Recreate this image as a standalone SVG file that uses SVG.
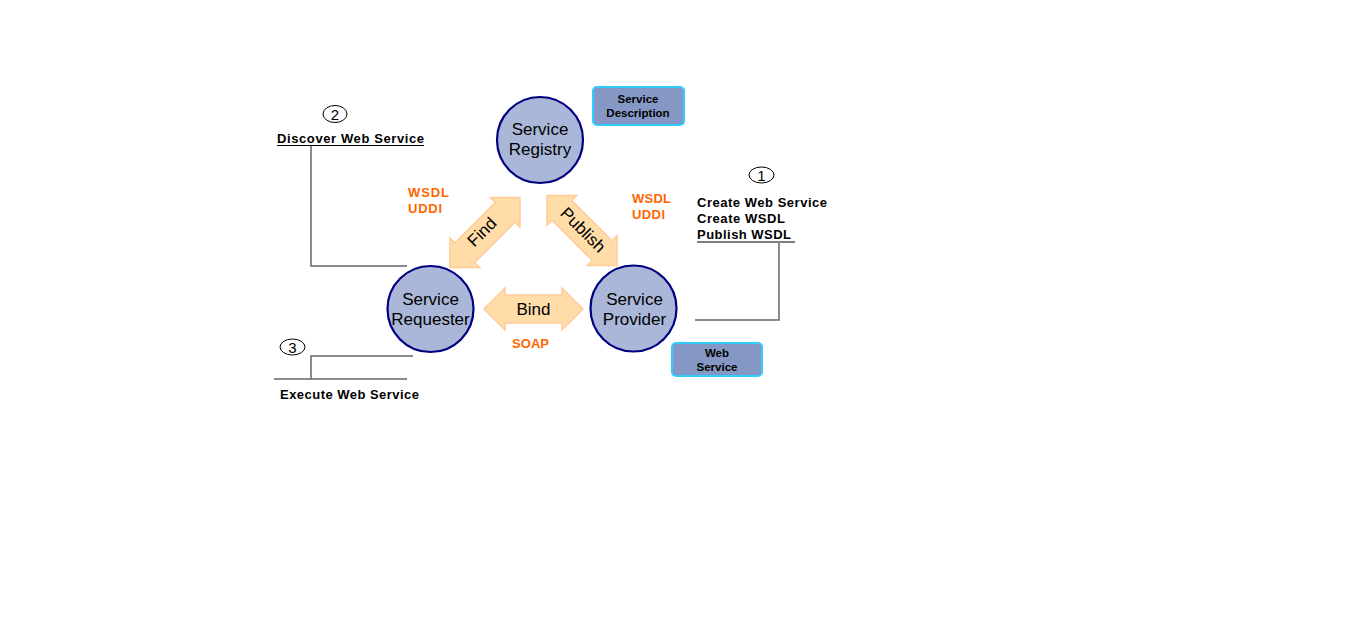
<svg xmlns="http://www.w3.org/2000/svg" width="1360" height="630" viewBox="0 0 1360 630">
<defs>
<style>
.node{fill:#aab7d8;stroke:#000080;stroke-width:2.2}
.nt{font-family:"Liberation Sans",Arial,sans-serif;font-size:17px;fill:#000;text-anchor:middle}
.box{fill:#8597c5;stroke:#33ccff;stroke-width:2}
.bt{font-family:"Liberation Sans",Arial,sans-serif;font-size:11.5px;font-weight:bold;fill:#000;text-anchor:middle}
.arr{fill:#ffdca8;stroke:#ffcc99;stroke-width:1.5}
.lbl{font-family:"Liberation Sans",Arial,sans-serif;font-size:13px;font-weight:bold;fill:#000}
.or{font-family:"Liberation Sans",Arial,sans-serif;font-size:13px;font-weight:bold;fill:#ff6600}
.ln{fill:none;stroke:#666;stroke-width:1.5}
.ul{fill:none;stroke:#000;stroke-width:1.2}
.num{fill:#fff;stroke:#000;stroke-width:1}
.nn{font-family:"Liberation Sans",Arial,sans-serif;font-size:15px;fill:#000;text-anchor:middle}
</style>
<path id="dbl" d="M -49.5 0 L -28.5 -21 L -28.5 -14 L 28.5 -14 L 28.5 -21 L 49.5 0 L 28.5 21 L 28.5 14 L -28.5 14 L -28.5 21 Z"/>
</defs>
<rect width="1360" height="630" fill="#fff"/>
<g id="connectors">
<polyline class="ln" points="311,146 311,266 407,266"/>
<polyline class="ln" points="779,243 779,320 695,320"/>
<polyline class="ln" points="413,356 311,356 311,379"/>
<line class="ln" x1="274" y1="379" x2="407" y2="379"/>
<g id="find"><use href="#dbl" class="arr" transform="translate(485,232.5) rotate(-45)"/>
<text class="nt" transform="translate(486,236) rotate(-45)">Find</text></g>
<g id="publish"><use href="#dbl" class="arr" transform="translate(582,230.5) rotate(45)"/>
<text class="nt" transform="translate(579,234) rotate(45)">Publish</text></g>
<g id="bind"><use href="#dbl" class="arr" transform="translate(533.5,309)"/>
<text class="nt" x="533.5" y="315">Bind</text></g>
</g>
<g id="registry"><circle class="node" cx="540" cy="140" r="43"/>
<text class="nt" x="540" y="135">Service</text><text class="nt" x="540" y="155">Registry</text></g>
<g id="requester"><circle class="node" cx="430.5" cy="309" r="43"/>
<text class="nt" x="430.5" y="305">Service</text><text class="nt" x="430.5" y="325">Requester</text></g>
<g id="provider"><circle class="node" cx="633.5" cy="308.5" r="43"/>
<text class="nt" x="634.5" y="305">Service</text><text class="nt" x="634.5" y="325">Provider</text></g>
<g id="service-description"><rect class="box" x="593" y="87" width="91" height="38" rx="4"/>
<text class="bt" x="638" y="103">Service</text><text class="bt" x="638" y="117">Description</text></g>
<g id="web-service"><rect class="box" x="672" y="343" width="90" height="33" rx="4"/>
<text class="bt" x="717" y="357">Web</text><text class="bt" x="717" y="371">Service</text></g>
<g id="step2"><ellipse class="num" cx="335" cy="114" rx="12" ry="8.5"/><text class="nn" x="335" y="119.5">2</text>
<text class="lbl" x="277" y="143" textLength="147" lengthAdjust="spacing">Discover Web Service</text><line class="ul" x1="277" y1="145.5" x2="424" y2="145.5"/></g>
<g id="step1"><ellipse class="num" cx="761.5" cy="175" rx="12.5" ry="8"/><text class="nn" x="761.5" y="180.5">1</text>
<text class="lbl" x="697" y="207" textLength="130" lengthAdjust="spacing">Create Web Service</text>
<text class="lbl" x="697" y="223" textLength="88" lengthAdjust="spacing">Create WSDL</text>
<text class="lbl" x="697" y="239" textLength="94" lengthAdjust="spacing">Publish WSDL</text><line class="ul" x1="697" y1="242" x2="795" y2="242"/></g>
<g id="step3"><ellipse class="num" cx="292.5" cy="347" rx="12.5" ry="8"/><text class="nn" x="292.5" y="352.5">3</text>
<text class="lbl" x="280" y="399" textLength="139" lengthAdjust="spacing">Execute Web Service</text></g>
<g id="protocols">
<text class="or" x="408" y="197" textLength="41" lengthAdjust="spacing">WSDL</text><text class="or" x="408" y="213" textLength="34" lengthAdjust="spacing">UDDI</text>
<text class="or" x="632" y="203" textLength="39" lengthAdjust="spacing">WSDL</text><text class="or" x="632" y="219" textLength="33" lengthAdjust="spacing">UDDI</text>
<text class="or" x="512" y="348" textLength="37" lengthAdjust="spacing">SOAP</text>
</g>
</svg>
